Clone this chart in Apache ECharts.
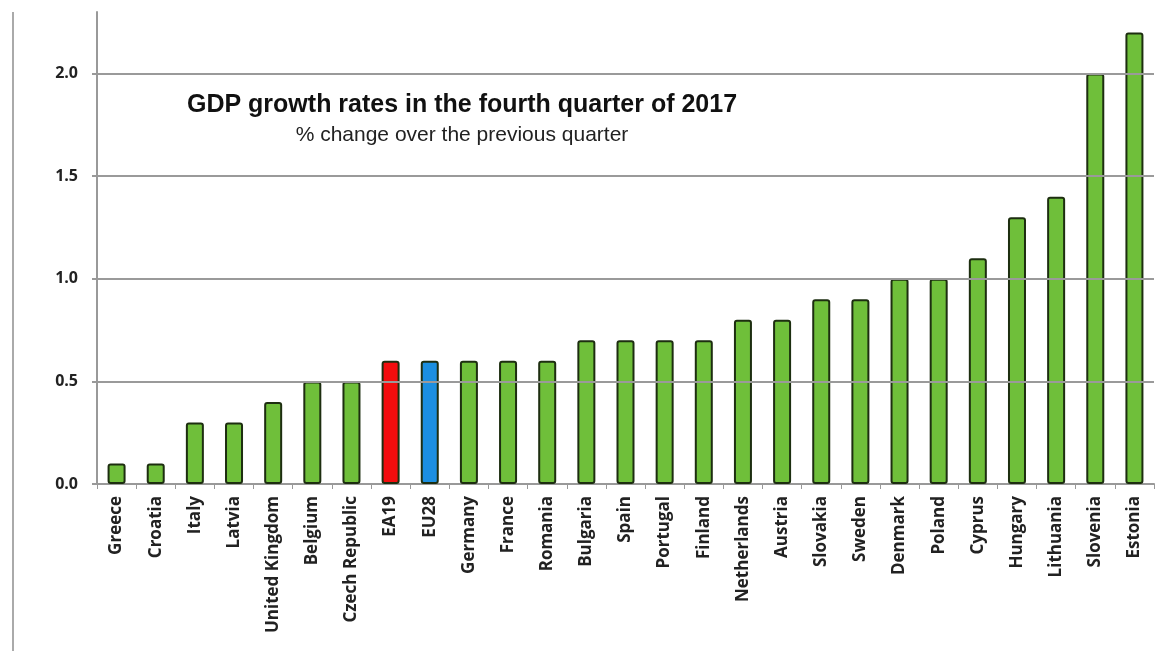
<!DOCTYPE html>
<html><head><meta charset="utf-8">
<script src="https://cdn.jsdelivr.net/npm/echarts@6/dist/echarts.min.js"></script>
<style>html,body{margin:0;padding:0;background:#fff}#c{width:1174px;height:651px}</style>
</head><body><div id="c"></div>
<script>
const categories = ["Greece","Croatia","Italy","Latvia","United Kingdom","Belgium","Czech Republic","EA19","EU28","Germany","France","Romania","Bulgaria","Spain","Portugal","Finland","Netherlands","Austria","Slovakia","Sweden","Denmark","Poland","Cyprus","Hungary","Lithuania","Slovenia","Estonia"];
const values = [0.1,0.1,0.3,0.3,0.4,0.5,0.5,0.6,0.6,0.6,0.6,0.6,0.7,0.7,0.7,0.7,0.8,0.8,0.9,0.9,1.0,1.0,1.1,1.3,1.4,2.0,2.2];
const tickValues = [0, 0.5, 1.0, 1.5, 2.0];
const gridValues = [0.5, 1.0, 1.5, 2.0];
const titleText = "GDP growth rates in the fourth quarter of 2017";
const subtitleText = "% change over the previous quarter";

const colorFor = c => c === "EA19" ? "#f20d0d" : (c === "EU28" ? "#1b8fe0" : "#6fbf3a");

const chart = echarts.init(document.getElementById('c'));
chart.setOption({
  animation: false,
  title: [{
    text: titleText, left: 457, top: 88, textAlign: 'center',
    textStyle: {fontFamily: 'Liberation Sans', fontWeight: 'bold', fontSize: 25, color: '#111'}
  }, {
    text: subtitleText, left: 457, top: 120, textAlign: 'center',
    textStyle: {fontFamily: 'Liberation Sans', fontWeight: 'normal', fontSize: 21, color: '#222'}
  }],
  graphic: [{
    type: 'line', shape: {x1: 13, y1: 12, x2: 13, y2: 651},
    style: {stroke: '#aaa', lineWidth: 2}
  }],
  grid: {left: 97, right: 20, top: 12, bottom: 167},
  xAxis: {
    type: 'category', data: categories,
    axisLine: {lineStyle: {color: '#999', width: 2}},
    axisTick: {show: true, length: 5, lineStyle: {color: '#999'}},
    axisLabel: {rotate: 90, interval: 0, margin: 12, fontFamily: 'Open Sans', fontWeight: 'bold', fontSize: 17, color: '#222'}
  },
  yAxis: {
    type: 'value', min: 0, max: 2.3, interval: 0.5,
    axisLine: {show: true, lineStyle: {color: '#999', width: 2}},
    axisTick: {show: true, customValues: tickValues, length: 5, lineStyle: {color: '#999', width: 2}},
    splitLine: {show: false},
    axisLabel: {
      customValues: tickValues,
      margin: 19, fontFamily: 'Open Sans', fontWeight: 'bold', fontSize: 16, color: '#222',
      formatter: v => v.toFixed(1)
    }
  },
  series: [{
    type: 'bar', barWidth: 18,
    data: values.map((v, i) => ({value: v, itemStyle: {color: colorFor(categories[i])}})),
    itemStyle: {borderColor: '#1d2e10', borderWidth: 2, borderRadius: 2},
    markLine: {
      silent: true, symbol: 'none', label: {show: false},
      lineStyle: {color: '#9a9a9a', width: 2, type: 'solid'},
      data: gridValues.map(v => ({yAxis: v}))
    },
    z: 3
  }]
});
</script></body></html>
